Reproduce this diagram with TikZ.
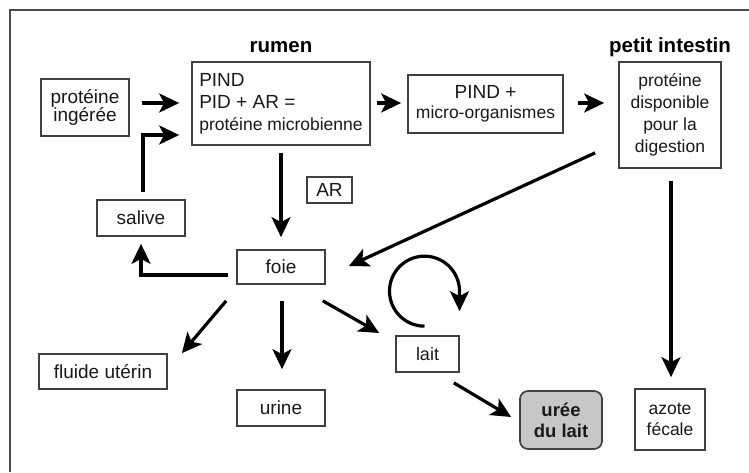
\documentclass[tikz,border=0pt]{standalone}
\usepackage{fontspec}
\setmainfont{Liberation Sans}
\usetikzlibrary{arrows.meta}
\begin{document}
\begin{tikzpicture}[x=1pt,y=-1pt,
  box/.style={draw=black!75, line width=1.7pt, align=center, inner sep=0pt, text=black!90,
    font=\fontsize{19}{22}\selectfont},
  arr/.style={line width=3.2pt, -{Stealth[length=20pt,width=19pt,inset=5pt]}},
  lbl/.style={font=\bfseries\fontsize{20.5}{24}\selectfont, inner sep=0pt}]
\useasboundingbox (0,0) rectangle (749,472);
\fill[white] (0,0) rectangle (749,472);
% frame
\draw[black!70, line width=2pt] (10,472) -- (10,10) -- (749,10);
% labels
\node[lbl] (lrumen) at (281,47) {rumen};
\node[lbl] (lpetit) at (670,47) {petit intestin};
% boxes
\node[box, minimum width=88pt, minimum height=57pt, font=\fontsize{19}{18.5}\selectfont] (ing) at (85,107.5) {protéine\\ingérée};
\node[box, minimum width=178pt, minimum height=83pt, align=left] (rumen) at (281,103.5)
  {PIND\\PID + AR =\\{\fontsize{17.5}{22}\selectfont protéine microbienne}};
\node[box, minimum width=155pt, minimum height=58pt, font=\fontsize{19}{19.5}\selectfont] (pind) at (485.5,104)
  {PIND +\\{\fontsize{17.5}{19.5}\selectfont micro-organismes}};
\node[box, minimum width=102pt, minimum height=106pt, font=\fontsize{17.5}{22}\selectfont] (petit) at (670,115)
  {protéine\\disponible\\pour la\\digestion};
\node[box, minimum width=45pt, minimum height=26pt] (ar) at (329.5,190) {AR};
\node[box, minimum width=88pt, minimum height=36pt] (salive) at (141,218) {salive};
\node[box, minimum width=88pt, minimum height=34pt] (foie) at (281,267) {foie};
\node[box, minimum width=128pt, minimum height=35pt] (fluide) at (103,371.5) {fluide utérin};
\node[box, minimum width=88pt, minimum height=36pt] (urine) at (281,408) {urine};
\node[box, minimum width=63pt, minimum height=36pt, font=\fontsize{18}{21}\selectfont] (lait) at (427.5,354) {lait};
\node[box, rounded corners=8pt, fill=black!22, minimum width=82pt, minimum height=58pt,
  font=\bfseries\fontsize{18.5}{21}\selectfont] (uree) at (561,420) {urée\\du lait};
\node[box, minimum width=70pt, minimum height=61pt, font=\fontsize{17.5}{21.5}\selectfont] (azote) at (670,419.5) {azote\\fécale};
% connectors
\draw[arr] ([shift={(12,-4.5)}]ing.east) -- ([shift={(-12,-0.5)}]rumen.west);
\draw[arr] ([shift={(2,-7)}]salive.north) |- ([shift={(-12,31.5)}]rumen.west);
\draw[arr] ([shift={(0,7)}]rumen.south) -- ([shift={(0,-12)}]foie.north);
\draw[arr] ([shift={(6,-0.5)}]rumen.east) -- ([shift={(-6,-1)}]pind.west);
\draw[arr] ([shift={(14,-1)}]pind.east) -- ([shift={(-14,-12)}]petit.west);
\draw[arr] ([shift={(-23,-16)}]petit.south west) -- ([shift={(23,-1)}]foie.east);
\draw[arr] ([shift={(1,12)}]petit.south) -- ([shift={(1,-11)}]azote.north);
\draw[arr] ([shift={(-8,8)}]foie.west) -| ([shift={(0,7)}]salive.south);
\draw[arr] ([shift={(-10,16)}]foie.south west) -- ([shift={(14,0)}]fluide.north east);
\draw[arr] ([shift={(1,16)}]foie.south) -- ([shift={(1,-20)}]urine.north);
\draw[arr] ([shift={(-3,16)}]foie.south east) -- ([shift={(-16,-21)}]lait.west);
\draw[arr] ([shift={(-6,10)}]lait.south east) -- ([shift={(-8,-3)}]uree.west);
\coordinate (loopstart) at ([shift={(-3,-9)}]lait.north);
\draw[arr] (loopstart) arc[start angle=270, end angle=0, radius=35pt] -- ++(0,20);
\end{tikzpicture}
\end{document}
